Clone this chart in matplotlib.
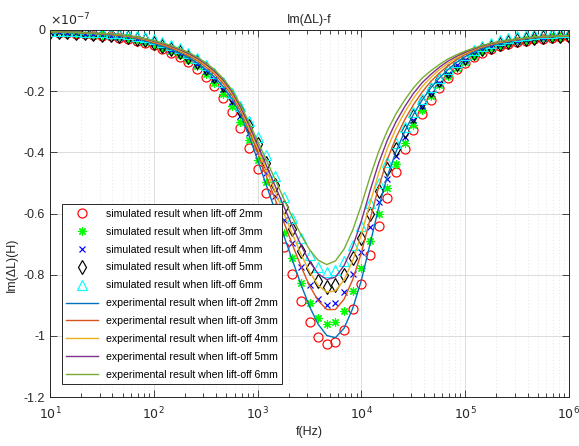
import numpy as np
import matplotlib
matplotlib.use("Agg")
import matplotlib.pyplot as plt
from matplotlib.ticker import LogLocator, NullFormatter

plt.rcParams['font.family'] = ['Liberation Sans', 'DejaVu Sans']

# frequency exponent grid: 10^1 ... 10^6, 12 points per decade
freq_exp_start, freq_exp_stop, points_per_decade = 1, 6, 12
freq = np.logspace(freq_exp_start, freq_exp_stop,
                   (freq_exp_stop - freq_exp_start) * points_per_decade + 1)

# values in units of 1e-7 H
sim_2mm = [-0.008, -0.009, -0.010, -0.012, -0.014, -0.016, -0.018, -0.021, -0.025, -0.029,
           -0.035, -0.042, -0.050, -0.062, -0.075, -0.089, -0.106, -0.126, -0.153, -0.184,
           -0.222, -0.267, -0.321, -0.385, -0.455, -0.532, -0.619, -0.709, -0.798, -0.885,
           -0.954, -1.005, -1.027, -1.019, -0.981, -0.913, -0.831, -0.736, -0.640, -0.548,
           -0.463, -0.390, -0.327, -0.276, -0.228, -0.191, -0.158, -0.129, -0.109, -0.089,
           -0.074, -0.063, -0.053, -0.046, -0.039, -0.035, -0.031, -0.028, -0.025, -0.024,
           -0.022]
sim_3mm = [-0.007, -0.008, -0.009, -0.011, -0.013, -0.015, -0.017, -0.020, -0.023, -0.027,
           -0.033, -0.039, -0.047, -0.058, -0.070, -0.083, -0.099, -0.118, -0.143, -0.172,
           -0.208, -0.250, -0.300, -0.360, -0.426, -0.498, -0.579, -0.664, -0.747, -0.828,
           -0.893, -0.941, -0.961, -0.954, -0.918, -0.855, -0.778, -0.689, -0.601, -0.516,
           -0.437, -0.369, -0.311, -0.262, -0.217, -0.181, -0.150, -0.123, -0.104, -0.085,
           -0.070, -0.060, -0.050, -0.044, -0.037, -0.033, -0.029, -0.027, -0.024, -0.023,
           -0.021]
sim_4mm = [-0.007, -0.008, -0.009, -0.010, -0.012, -0.014, -0.016, -0.018, -0.022, -0.025,
           -0.031, -0.037, -0.044, -0.054, -0.066, -0.078, -0.093, -0.110, -0.134, -0.161,
           -0.194, -0.234, -0.281, -0.337, -0.398, -0.466, -0.542, -0.620, -0.698, -0.774,
           -0.835, -0.879, -0.899, -0.892, -0.858, -0.799, -0.727, -0.644, -0.563, -0.486,
           -0.413, -0.350, -0.295, -0.249, -0.206, -0.172, -0.143, -0.116, -0.098, -0.080,
           -0.067, -0.057, -0.048, -0.041, -0.035, -0.032, -0.028, -0.025, -0.023, -0.022,
           -0.020]
sim_5mm = [-0.007, -0.007, -0.008, -0.010, -0.011, -0.013, -0.015, -0.017, -0.020, -0.024,
           -0.029, -0.034, -0.041, -0.051, -0.061, -0.073, -0.087, -0.103, -0.125, -0.150,
           -0.181, -0.218, -0.262, -0.315, -0.372, -0.435, -0.506, -0.579, -0.652, -0.723,
           -0.779, -0.821, -0.839, -0.833, -0.801, -0.746, -0.679, -0.601, -0.528, -0.456,
           -0.389, -0.331, -0.280, -0.237, -0.195, -0.164, -0.135, -0.111, -0.093, -0.076,
           -0.063, -0.054, -0.045, -0.039, -0.033, -0.030, -0.027, -0.024, -0.021, -0.021,
           -0.019]
sim_6mm = [-0.002, -0.003, -0.003, -0.004, -0.005, -0.006, -0.007, -0.009, -0.011, -0.014,
           -0.018, -0.023, -0.030, -0.038, -0.048, -0.060, -0.074, -0.091, -0.113, -0.139,
           -0.169, -0.205, -0.247, -0.296, -0.350, -0.410, -0.477, -0.546, -0.614, -0.681,
           -0.735, -0.774, -0.791, -0.785, -0.755, -0.703, -0.640, -0.567, -0.499, -0.433,
           -0.370, -0.316, -0.268, -0.226, -0.187, -0.157, -0.128, -0.103, -0.083, -0.066,
           -0.052, -0.041, -0.032, -0.025, -0.019, -0.015, -0.012, -0.010, -0.009, -0.008,
           -0.007]

exp_2mm = [-0.006, -0.007, -0.008, -0.009, -0.010, -0.012, -0.014, -0.016, -0.019, -0.023,
           -0.028, -0.035, -0.044, -0.053, -0.064, -0.076, -0.090, -0.107, -0.128, -0.153,
           -0.184, -0.224, -0.275, -0.345, -0.425, -0.507, -0.588, -0.670, -0.751, -0.831,
           -0.904, -0.962, -0.999, -1.006, -0.975, -0.910, -0.818, -0.700, -0.580, -0.478,
           -0.398, -0.332, -0.277, -0.230, -0.190, -0.157, -0.130, -0.106, -0.087, -0.072,
           -0.060, -0.051, -0.044, -0.038, -0.033, -0.029, -0.026, -0.024, -0.022, -0.021,
           -0.020]
exp_3mm = [-0.006, -0.007, -0.008, -0.008, -0.010, -0.011, -0.013, -0.015, -0.018, -0.021,
           -0.026, -0.032, -0.041, -0.049, -0.059, -0.070, -0.084, -0.100, -0.120, -0.144,
           -0.174, -0.213, -0.263, -0.329, -0.402, -0.477, -0.551, -0.626, -0.700, -0.772,
           -0.836, -0.885, -0.914, -0.914, -0.880, -0.816, -0.728, -0.619, -0.513, -0.423,
           -0.352, -0.294, -0.245, -0.204, -0.169, -0.141, -0.117, -0.097, -0.080, -0.067,
           -0.056, -0.048, -0.041, -0.036, -0.032, -0.028, -0.025, -0.023, -0.021, -0.020,
           -0.019]
exp_4mm = [-0.005, -0.006, -0.007, -0.008, -0.009, -0.011, -0.012, -0.014, -0.017, -0.020,
           -0.024, -0.031, -0.039, -0.046, -0.056, -0.067, -0.080, -0.095, -0.115, -0.138,
           -0.168, -0.206, -0.255, -0.318, -0.387, -0.457, -0.526, -0.597, -0.666, -0.732,
           -0.791, -0.835, -0.857, -0.853, -0.817, -0.754, -0.668, -0.566, -0.468, -0.387,
           -0.322, -0.269, -0.224, -0.186, -0.156, -0.130, -0.109, -0.091, -0.076, -0.064,
           -0.054, -0.046, -0.040, -0.035, -0.031, -0.027, -0.024, -0.022, -0.021, -0.020,
           -0.019]
exp_5mm = [-0.005, -0.006, -0.007, -0.007, -0.009, -0.010, -0.012, -0.014, -0.016, -0.019,
           -0.023, -0.029, -0.037, -0.044, -0.054, -0.064, -0.077, -0.092, -0.111, -0.134,
           -0.163, -0.200, -0.250, -0.310, -0.376, -0.442, -0.508, -0.575, -0.640, -0.703,
           -0.757, -0.797, -0.816, -0.808, -0.770, -0.708, -0.624, -0.526, -0.435, -0.360,
           -0.300, -0.251, -0.208, -0.173, -0.146, -0.122, -0.102, -0.086, -0.073, -0.062,
           -0.052, -0.045, -0.038, -0.034, -0.030, -0.027, -0.024, -0.022, -0.020, -0.019,
           -0.018]
exp_6mm = [-0.005, -0.006, -0.007, -0.007, -0.009, -0.010, -0.011, -0.013, -0.015, -0.018,
           -0.022, -0.028, -0.035, -0.042, -0.051, -0.061, -0.073, -0.088, -0.107, -0.129,
           -0.158, -0.194, -0.243, -0.301, -0.363, -0.425, -0.487, -0.550, -0.611, -0.669,
           -0.718, -0.753, -0.767, -0.755, -0.716, -0.654, -0.572, -0.480, -0.397, -0.329,
           -0.274, -0.229, -0.190, -0.158, -0.134, -0.113, -0.095, -0.081, -0.069, -0.059,
           -0.050, -0.043, -0.037, -0.033, -0.029, -0.026, -0.023, -0.021, -0.020, -0.019,
           -0.018]

liftoffs = ["2mm", "3mm", "4mm", "5mm", "6mm"]
sim_series = [sim_2mm, sim_3mm, sim_4mm, sim_5mm, sim_6mm]
exp_series = [exp_2mm, exp_3mm, exp_4mm, exp_5mm, exp_6mm]
sim_markers = ['o', (8, 2, 0), 'x', 'd', '^']
sim_marker_sizes = [6.5, 6.0, 4.5, 7.0, 6.5]
sim_colors = ['#ff0000', '#00ff00', '#0000ff', '#000000', '#00ffff']
exp_colors = ['#0072bd', '#d95319', '#edb120', '#7e2f8e', '#77ac30']

y_ticks = [-1.2, -1.0, -0.8, -0.6, -0.4, -0.2, 0.0]
y_tick_labels = ["-1.2", "-1", "-0.8", "-0.6", "-0.4", "-0.2", "0"]
x_ticks = [1e1, 1e2, 1e3, 1e4, 1e5, 1e6]
x_tick_labels = [r"$10^{1}$", r"$10^{2}$", r"$10^{3}$", r"$10^{4}$", r"$10^{5}$", r"$10^{6}$"]

fig = plt.figure(figsize=(5.79, 4.46), dpi=100)
ax = fig.add_axes([50/579, 1-397/446, 519/579, 367/446])

for lo, ys, mk, ms, c in zip(liftoffs, sim_series, sim_markers, sim_marker_sizes, sim_colors):
    ax.plot(freq, ys, linestyle='none', marker=mk, markersize=ms,
            markerfacecolor='none', markeredgecolor=c, markeredgewidth=0.85,
            label=f"simulated result when lift-off {lo}")
for lo, ys, c in zip(liftoffs, exp_series, exp_colors):
    ax.plot(freq, ys, '-', color=c, linewidth=1.0,
            label=f"experimental result when lift-off {lo}")

ax.set_xscale('log')
ax.set_xlim(1e1, 1e6)
ax.set_ylim(-1.2, 0)
ax.set_xticks(x_ticks)
ax.set_xticklabels(x_tick_labels)
ax.xaxis.set_minor_locator(LogLocator(base=10, subs=np.arange(2, 10)))
ax.xaxis.set_minor_formatter(NullFormatter())
ax.set_yticks(y_ticks)
ax.set_yticklabels(y_tick_labels)

axis_color = '#262626'
for sp in ax.spines.values():
    sp.set_color(axis_color)
    sp.set_linewidth(0.7)
ax.tick_params(axis='both', which='both', direction='in', top=True, right=True,
               colors=axis_color, labelsize=9, labelcolor=axis_color)
ax.tick_params(which='major', length=5, width=0.6)
ax.tick_params(which='minor', length=3, width=0.6)
ax.tick_params(axis='x', pad=6)

ax.grid(True, which='major', color='#dcdcdc', linewidth=0.7, linestyle='-')
ax.grid(True, which='minor', axis='x', color='#dddddd', linewidth=0.6, linestyle=(0, (1, 3)))
ax.set_axisbelow(True)

ax.set_title("Im(ΔL)-f", fontsize=9, color=axis_color, pad=5)
ax.set_xlabel("f(Hz)", fontsize=9, color=axis_color, labelpad=3)
ax.set_ylabel("Im(ΔL)(H)", fontsize=9, color=axis_color, labelpad=5)
ax.yaxis.set_label_coords(-0.061, 0.36)
ax.text(0.0, 1.005, r"$\times10^{-7}$", transform=ax.transAxes, fontsize=9,
        color=axis_color, ha='left', va='bottom')

leg = ax.legend(loc='lower left', bbox_to_anchor=(0.023, 0.035), borderaxespad=0,
                fontsize=7.6, frameon=True, fancybox=False, framealpha=1,
                edgecolor=axis_color, handlelength=3.0, handletextpad=0.8,
                labelspacing=0.75, borderpad=0.4)
leg.get_frame().set_linewidth(0.7)

fig.savefig("out.png", dpi=100)
